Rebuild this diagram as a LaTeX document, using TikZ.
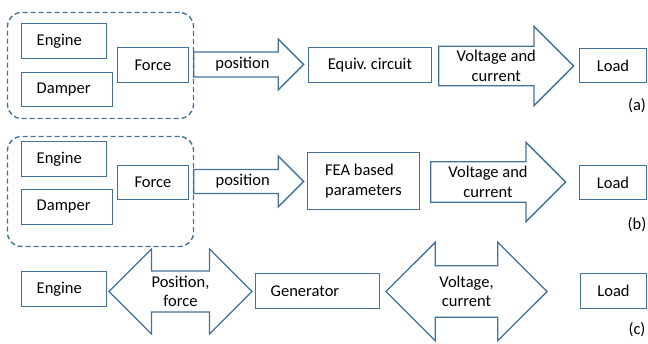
\documentclass[tikz,border=0pt]{standalone}
\usepackage{fontspec}
\setmainfont{Carlito}
\usepackage{tikz}
\usetikzlibrary{positioning, shapes}
\usetikzlibrary{shapes.arrows}
\definecolor{boxblue}{HTML}{41719C}

\begin{document}
\begin{tikzpicture}[x=1pt,y=-1pt,font=\fontsize{16.5}{19.5}\selectfont]
            \tikzset{box/.style = {draw=boxblue, line width=1.4pt, minimum height=34.5pt, inner sep=2pt}}
            \tikzset{leftbox/.style = {box, text width=#1, align=left, inner xsep=15pt}}
            \tikzset{group/.style = {draw=boxblue, line width=1.4pt, dash pattern=on 5pt off 3pt, rounded corners=14pt}}
            \tikzset{fatarrow/.style = {single arrow, draw=boxblue, line width=1.4pt, single arrow head indent=0pt, inner xsep=0pt, align=center}}
            \tikzset{fatboth/.style = {double arrow, draw=boxblue, line width=1.4pt, double arrow head indent=0pt, inner xsep=0pt, align=center}}
            \tikzset{tag/.style = {inner sep=0pt}}
            \useasboundingbox (0,0) rectangle (648,343);

            % (a) equivalent circuit
            \node[group, minimum width=186pt, minimum height=106pt] (grpA) at (100.5,65.5) {};
            \node[leftbox=54.6pt] (engA) at (64,41) {Engine};
            \node[leftbox=60.6pt] (dampA) at (67,89.5) {Damper};
            \node[box, minimum width=70.5pt] (forceA) at (153,65) {Force};
            \node[fatarrow, minimum height=110pt, inner ysep=4.75pt, single arrow head extend=13pt, anchor=tail] (posA) at (193,64.5) {position};
            \node[box, minimum width=122.5pt] (equivA) at (370,65) {Equiv.\ circuit};
            \node[fatarrow, minimum height=135pt, inner ysep=3.5pt, single arrow head extend=20pt, anchor=tail] (voltA) at (438,66) {Voltage and\\current};
            \node[box, minimum width=66.5pt] (loadA) at (613,65.5) {Load};
            \node[tag] (labA) at (637,106) {(a)};

            % (b) FEA parameters
            \node[group, minimum width=186pt, minimum height=110pt] (grpB) at (100.5,191.5) {};
            \node[leftbox=54.6pt] (engB) at (64,159) {Engine};
            \node[leftbox=60.6pt] (dampB) at (67,207) {Damper};
            \node[box, minimum width=70.5pt] (forceB) at (153,182.5) {Force};
            \node[fatarrow, minimum height=110pt, inner ysep=4.25pt, single arrow head extend=13.5pt, anchor=tail] (posB) at (193,181.5) {position};
            \node[box, minimum width=111.5pt, minimum height=56.5pt, align=left] (feaB) at (363.5,181) {FEA based\\parameters};
            \node[fatarrow, minimum height=135pt, inner ysep=4pt, single arrow head extend=19.5pt, anchor=tail] (voltB) at (430,182) {Voltage and\\current};
            \node[box, minimum width=66.5pt] (loadB) at (613,182.5) {Load};
            \node[tag] (labB) at (637,225) {(b)};

            % (c) coupled
            \node[leftbox=54.6pt] (engC) at (64,289) {Engine};
            \node[fatboth, minimum height=143pt, inner ysep=4.25pt, double arrow head extend=22pt] (posC) at (180.5,291.5) {Position,\\force};
            \node[leftbox=93.6pt] (genC) at (317.5,291) {Generator};
            \node[fatboth, minimum height=161pt, inner ysep=9.5pt, double arrow head extend=23.5pt] (voltC) at (466.5,291.5) {Voltage,\\current};
            \node[box, minimum width=65.5pt] (loadC) at (613.5,291) {Load};
            \node[tag] (labC) at (637,330) {(c)};
\end{tikzpicture}
\end{document}
